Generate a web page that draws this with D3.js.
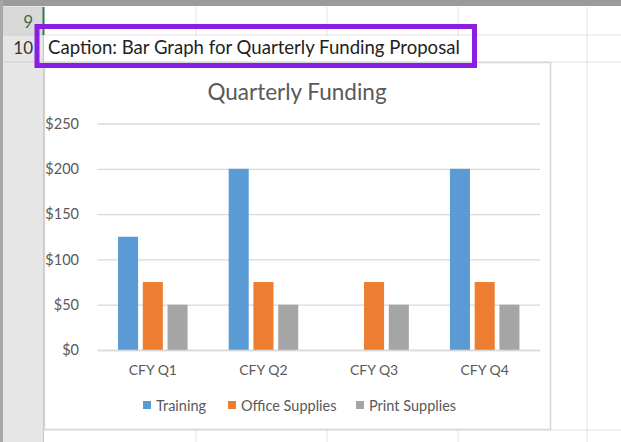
<!DOCTYPE html>
<html>
<head>
<meta charset="utf-8">
<script src="https://cdn.jsdelivr.net/npm/d3@7"></script>
<style>
  body { margin: 0; background: #fff; }
  svg { display: block; }
</style>
</head>
<body>
<div id="chart"></div>
<script>
var quarters = ["CFY Q1", "CFY Q2", "CFY Q3", "CFY Q4"];
var seriesNames = ["Training", "Office Supplies", "Print Supplies"];
var training = [125, 200, null, 200];
var officeSupplies = [75, 75, 75, 75];
var printSupplies = [50, 50, 50, 50];
var yTicks = [0, 50, 100, 150, 200, 250];
var rowLabels = ["9", "10"];

var colors = ["#5B9BD5", "#ED7D31", "#A5A5A5"];
var values = [training, officeSupplies, printSupplies];
var font = "Lato, 'Open Sans', sans-serif";

var W = 621, H = 442;
var svg = d3.select("#chart").append("svg")
    .attr("width", W)
    .attr("height", H);

// spreadsheet background
var grid = svg.append("g");
grid.append("rect").attr("x", 0).attr("y", 0).attr("width", W).attr("height", H).attr("fill", "#fff");

// row/column gridlines
[35, 62, 430].forEach(function (y) {
    grid.append("line").attr("x1", 43).attr("x2", W).attr("y1", y).attr("y2", y)
        .attr("stroke", "#e1e1e1").attr("stroke-width", 1);
});
[196, 327, 458, 587].forEach(function (x) {
    grid.append("line").attr("x1", x).attr("x2", x).attr("y1", 7).attr("y2", H)
        .attr("stroke", "#e1e1e1").attr("stroke-width", 1);
});
// caption overflow hides gridlines in row 10
grid.append("rect").attr("x", 44).attr("y", 36).attr("width", 540).attr("height", 25).attr("fill", "#fff");

// row header column
grid.append("rect").attr("x", 0).attr("y", 0).attr("width", 43).attr("height", H).attr("fill", "#e6e6e6");
grid.append("rect").attr("x", 3).attr("y", 7).attr("width", 40).attr("height", 28).attr("fill", "#d9d9d9");
grid.append("line").attr("x1", 43.5).attr("x2", 43.5).attr("y1", 7).attr("y2", H)
    .attr("stroke", "#c6c6c6");
grid.append("line").attr("x1", 3).attr("x2", 43).attr("y1", 35).attr("y2", 35).attr("stroke", "#cfcfcf");
grid.append("line").attr("x1", 3).attr("x2", 43).attr("y1", 62).attr("y2", 62).attr("stroke", "#cfcfcf");
grid.append("line").attr("x1", 43.5).attr("x2", 43.5).attr("y1", 7).attr("y2", 35)
    .attr("stroke", "#2f7d46").attr("stroke-width", 2);
// window frame
grid.append("rect").attr("x", 0).attr("y", 0).attr("width", W).attr("height", 6).attr("fill", "#9b9b9b");
grid.append("rect").attr("x", 0).attr("y", 0).attr("width", 3).attr("height", H).attr("fill", "#a8a8a8");

grid.selectAll(".rowlab").data(rowLabels).enter().append("text")
    .attr("x", 33)
    .attr("y", function (d, i) { return 28 + i * 26; })
    .attr("text-anchor", "end")
    .attr("font-family", font)
    .attr("font-size", "17px")
    .attr("fill", function (d, i) { return i == 0 ? "#3f6b47" : "#333"; })
    .text(function (d) { return d; });

// chart box
svg.append("rect")
    .attr("x", 44.5).attr("y", 62.5).attr("width", 506).attr("height", 367)
    .attr("fill", "#fff").attr("stroke", "#d6d6d6").attr("stroke-width", 1.5);

// caption cell + highlight
var caption = svg.append("text")
    .attr("x", 48).attr("y", 54)
    .attr("font-family", font)
    .attr("font-size", "16.5px")
    .attr("fill", "#222")
    .text("Caption: Bar Graph for Quarterly Funding Proposal");
var capLen = caption.node().getComputedTextLength();
caption.attr("font-size", (16.5 * 412 / capLen) + "px");

svg.append("rect")
    .attr("x", 37).attr("y", 26.5).attr("width", 437.5).attr("height", 39)
    .attr("fill", "none").attr("stroke", "#8a1fe3").attr("stroke-width", 5);

// plot
var x = d3.scaleBand().domain(quarters).range([97.5, 540]).padding(0);
var xSub = d3.scaleBand().domain(seriesNames).range([0, x.bandwidth()])
    .paddingInner(0.19).paddingOuter(0.83);
var y = d3.scaleLinear().domain([0, 250]).range([350, 123.5]);

var plot = svg.append("g");

plot.append("g")
    .attr("transform", "translate(97.5,0)")
    .call(d3.axisLeft(y).tickValues(yTicks).tickSize(-442.5).tickFormat(function (d) { return "$" + d; }))
    .call(function (g) {
        g.select(".domain").remove();
        g.selectAll(".tick line").attr("stroke", "#d9d9d9").attr("stroke-width", 1.3);
        g.selectAll(".tick text")
            .attr("x", -18.5)
            .attr("fill", "#595959")
            .attr("font-family", font)
            .attr("font-size", "14.5px");
    });

plot.append("text")
    .attr("x", 297).attr("y", 100)
    .attr("text-anchor", "middle")
    .attr("font-family", font)
    .attr("font-size", "22.5px")
    .attr("fill", "#595959")
    .text("Quarterly Funding");

var groups = plot.selectAll(".grp").data(quarters).enter().append("g")
    .attr("transform", function (d) { return "translate(" + x(d) + ",0)"; });

groups.selectAll("rect")
    .data(function (d, qi) {
        return seriesNames.map(function (s, si) { return { s: s, si: si, v: values[si][qi] }; })
            .filter(function (e) { return e.v != null; });
    })
    .enter().append("rect")
    .attr("x", function (d) { return xSub(d.s); })
    .attr("y", function (d) { return y(d.v); })
    .attr("width", xSub.bandwidth())
    .attr("height", function (d) { return y(0) - y(d.v); })
    .attr("fill", function (d) { return colors[d.si]; });

plot.append("g")
    .attr("transform", "translate(0,350)")
    .call(d3.axisBottom(x).tickSize(0).tickPadding(15))
    .call(function (g) {
        g.select(".domain").attr("stroke", "#d9d9d9").attr("stroke-width", 1.3);
        g.selectAll(".tick text")
            .attr("fill", "#595959")
            .attr("font-family", font)
            .attr("font-size", "14px");
    });

// legend
var legendX = [143, 228, 356];
var legend = plot.selectAll(".leg").data(seriesNames).enter().append("g")
    .attr("transform", function (d, i) { return "translate(" + legendX[i] + ",401)"; });
legend.append("rect").attr("width", 8).attr("height", 8)
    .attr("fill", function (d, i) { return colors[i]; });
legend.append("text")
    .attr("x", 13).attr("y", 9.5)
    .attr("fill", "#595959")
    .attr("font-family", font)
    .attr("font-size", "14.5px")
    .text(function (d) { return d; });
</script>
</body>
</html>
